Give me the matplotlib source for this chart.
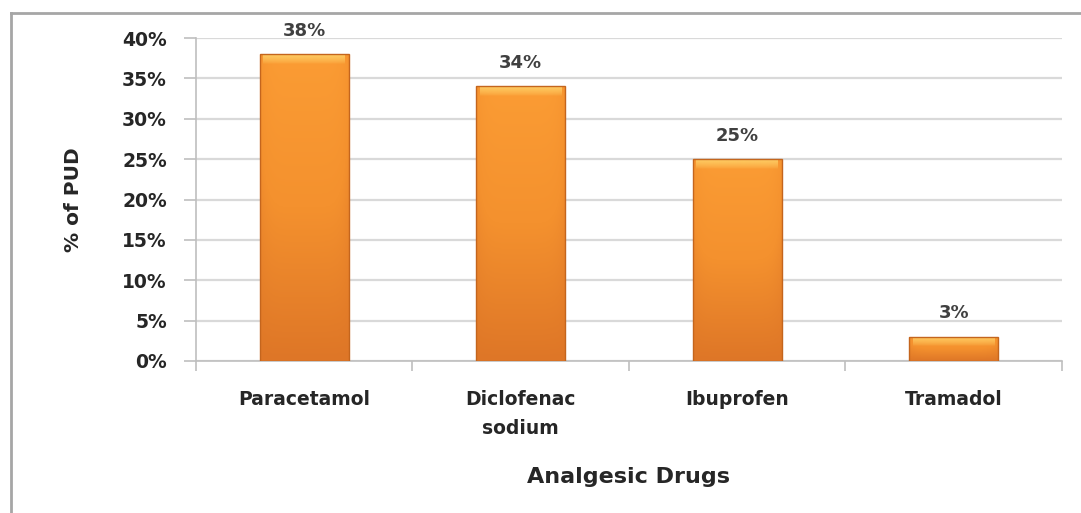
import numpy as np
import matplotlib
matplotlib.use("Agg")
import matplotlib.pyplot as plt
from matplotlib.colors import LinearSegmentedColormap, to_rgb
from matplotlib.lines import Line2D
from matplotlib.ticker import PercentFormatter

# Share of PUD attributed to each analgesic
drugs = ["Paracetamol", "Diclofenac\nsodium", "Ibuprofen", "Tramadol"]
pud_percent = [38, 34, 25, 3]
y_ticks = [0, 5, 10, 15, 20, 25, 30, 35, 40]

FONT = "DejaVu Sans"
TXT = "#262626"

fig = plt.figure(figsize=(10.81, 5.13), dpi=100)
ax = fig.add_axes([0.1813, 0.2963, 0.8011, 0.6296])

x = np.arange(len(drugs))
bar_w = 0.41
bars = ax.bar(x, pud_percent, width=bar_w, color="#F39131",
              edgecolor="none", zorder=3)

# Shaded fill: brighter top fading to deeper orange, darker side edges
body = LinearSegmentedColormap.from_list("body", ["#DE7627", "#F4912E", "#FB9C34"])
vert = np.linspace(0, 1, 200)[:, None]
horiz = 1 - 0.35 * np.abs(np.linspace(-1, 1, 80))[None, :] ** 6
grad = vert * horiz

# Highlight band for the top bevel: warm yellow fading into the body
bevel = np.zeros((40, 2, 4))
bevel[..., :3] = to_rgb("#FFD36A")
bevel[..., 3] = 0.9 * np.linspace(0.0, 1.0, 40)[:, None] ** 0.7

px_per_unit = 323 / 40.0
for b in bars:
    x0, w, h = b.get_x(), b.get_width(), b.get_height()
    im = ax.imshow(grad, cmap=body, origin="lower", aspect="auto",
                   extent=[x0, x0 + w, 0, h], vmin=0, vmax=1, zorder=3.1,
                   interpolation="bilinear")
    im.set_clip_path(b)
    cap = min(10 / px_per_unit, h * 0.4)
    inset = w * 0.04
    top = ax.imshow(bevel, origin="lower", aspect="auto",
                    extent=[x0 + inset, x0 + w - inset, h - cap, h],
                    zorder=3.2, interpolation="bilinear")
    top.set_clip_path(b)
    ax.add_patch(plt.Rectangle((x0, 0), w, h, facecolor="none",
                               edgecolor="#C4651D", linewidth=1.0, zorder=3.3))

for xi, v in zip(x, pud_percent):
    ax.annotate(f"{v}%", (xi, v), xytext=(0, 17), textcoords="offset points",
                ha="center", va="center", fontsize=13, fontweight="bold",
                color="#404040", family=FONT)

ax.set_xlim(-0.5, len(drugs) - 0.5)
ax.set_ylim(0, 40)
ax.set_yticks(y_ticks)
ax.yaxis.set_major_formatter(PercentFormatter(decimals=0))
ax.set_xticks(x)
ax.set_xticklabels(drugs, fontsize=13.5, fontweight="bold", color=TXT,
                   family=FONT, linespacing=1.65)
ax.set_xticks(np.arange(len(drugs) + 1) - 0.5, minor=True)
ax.tick_params(axis="x", which="major", length=0, pad=21)
ax.tick_params(axis="x", which="minor", length=7, width=1.2, color="#BFBFBF",
               direction="out")
ax.tick_params(axis="y", length=9, width=1.2, color="#BFBFBF", pad=12,
               labelsize=13.5, labelcolor=TXT)
for lab in ax.get_yticklabels():
    lab.set_fontweight("bold")
    lab.set_family(FONT)

ax.grid(axis="y", color="#D9D9D9", linewidth=1.6, zorder=0)
ax.set_axisbelow(True)
for side in ("top", "right"):
    ax.spines[side].set_visible(False)
for side in ("left", "bottom"):
    ax.spines[side].set_color("#BFBFBF")
    ax.spines[side].set_linewidth(1.2)

ax.set_xlabel("Analgesic Drugs", fontsize=16, fontweight="bold",
              color=TXT, family=FONT, va="center")
ax.xaxis.set_label_coords(0.5, -0.359)
ax.set_ylabel("% of PUD", fontsize=14.5, fontweight="bold", color=TXT,
              family=FONT, va="center")
ax.yaxis.set_label_coords(-0.1410, 0.5)

# Outer chart frame on the top and left edges
fig.add_artist(Line2D([11 / 1081, 1.0], [1 - 12.5 / 513, 1 - 12.5 / 513],
                      transform=fig.transFigure, color="#A6A6A6", linewidth=2))
fig.add_artist(Line2D([11 / 1081, 11 / 1081], [0, 1 - 12.5 / 513],
                      transform=fig.transFigure, color="#A6A6A6", linewidth=2))

fig.savefig("out.png", dpi=100)
